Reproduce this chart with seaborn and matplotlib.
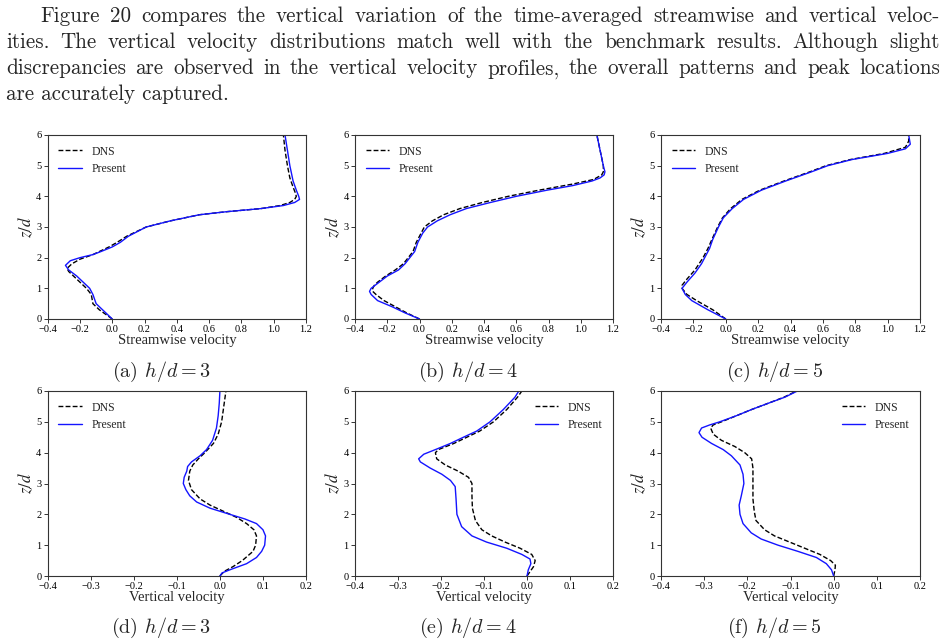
import numpy as np
import pandas as pd
import seaborn as sns
import matplotlib
import matplotlib.pyplot as plt

# ---------------------------------------------------------------- data
# (a) h/d = 3, streamwise
A_DNS_Z  = [0, 0.15, 0.3, 0.5, 0.8, 1.0, 1.2, 1.4, 1.55, 1.65, 1.8, 1.95, 2.1, 2.2, 2.35, 2.5, 2.7, 3.0, 3.2, 3.4, 3.5, 3.6, 3.7, 3.8, 3.9, 4.0, 4.1, 4.3, 4.6, 5.0, 5.5, 6.0]
A_DNS_U  = [0.0, -0.04, -0.08, -0.12, -0.13, -0.16, -0.20, -0.24, -0.27, -0.28, -0.25, -0.20, -0.12, -0.08, -0.02, 0.03, 0.09, 0.21, 0.36, 0.54, 0.71, 0.92, 1.04, 1.10, 1.13, 1.14, 1.135, 1.12, 1.10, 1.085, 1.07, 1.06]
A_PRE_Z  = [0, 0.15, 0.3, 0.5, 0.8, 1.0, 1.2, 1.4, 1.6, 1.75, 1.9, 2.0, 2.1, 2.2, 2.35, 2.5, 2.7, 3.0, 3.2, 3.4, 3.5, 3.6, 3.7, 3.8, 3.9, 4.0, 4.2, 4.5, 5.0, 5.5, 6.0]
A_PRE_U  = [0.0, -0.03, -0.06, -0.10, -0.12, -0.14, -0.18, -0.22, -0.27, -0.29, -0.26, -0.20, -0.12, -0.07, 0.0, 0.05, 0.10, 0.21, 0.36, 0.54, 0.71, 0.92, 1.06, 1.13, 1.16, 1.155, 1.14, 1.12, 1.10, 1.085, 1.07]

# (b) h/d = 4, streamwise
B_DNS_Z  = [0, 0.2, 0.4, 0.6, 0.8, 0.9, 1.0, 1.1, 1.2, 1.4, 1.6, 1.8, 2.0, 2.2, 2.5, 2.8, 3.0, 3.2, 3.4, 3.6, 3.8, 4.0, 4.2, 4.4, 4.55, 4.7, 4.8, 5.0, 5.5, 6.0]
B_DNS_U  = [0.0, -0.08, -0.15, -0.22, -0.27, -0.29, -0.29, -0.28, -0.26, -0.21, -0.15, -0.10, -0.07, -0.04, -0.02, 0.01, 0.03, 0.08, 0.15, 0.25, 0.39, 0.55, 0.74, 0.95, 1.08, 1.13, 1.14, 1.14, 1.12, 1.10]
B_PRE_Z  = [0, 0.2, 0.4, 0.6, 0.8, 0.9, 1.0, 1.2, 1.4, 1.6, 1.8, 2.0, 2.2, 2.5, 2.8, 3.0, 3.2, 3.4, 3.6, 3.8, 4.0, 4.2, 4.35, 4.5, 4.6, 4.7, 4.8, 5.0, 5.5, 6.0]
B_PRE_U  = [0.0, -0.09, -0.17, -0.26, -0.30, -0.31, -0.30, -0.25, -0.20, -0.13, -0.09, -0.06, -0.03, -0.01, 0.02, 0.05, 0.11, 0.19, 0.29, 0.44, 0.60, 0.79, 0.95, 1.07, 1.12, 1.145, 1.15, 1.14, 1.12, 1.10]

# (c) h/d = 5, streamwise
C_DNS_Z  = [0, 0.3, 0.6, 0.8, 1.0, 1.1, 1.3, 1.6, 2.0, 2.3, 2.6, 3.0, 3.3, 3.6, 3.9, 4.2, 4.5, 4.8, 5.0, 5.2, 5.4, 5.6, 5.8, 6.0]
C_DNS_U  = [0.0, -0.08, -0.18, -0.24, -0.27, -0.27, -0.24, -0.19, -0.14, -0.11, -0.085, -0.05, -0.02, 0.03, 0.10, 0.21, 0.36, 0.52, 0.62, 0.77, 0.98, 1.11, 1.13, 1.13]
C_PRE_Z  = [0, 0.3, 0.6, 0.8, 1.0, 1.2, 1.5, 1.8, 2.0, 2.3, 2.6, 3.0, 3.3, 3.6, 3.9, 4.2, 4.5, 4.8, 5.0, 5.2, 5.4, 5.55, 5.7, 5.85, 6.0]
C_PRE_U  = [0.0, -0.11, -0.21, -0.25, -0.27, -0.24, -0.19, -0.15, -0.13, -0.10, -0.08, -0.045, -0.015, 0.04, 0.11, 0.22, 0.37, 0.53, 0.63, 0.78, 1.0, 1.11, 1.14, 1.135, 1.13]

# (d) h/d = 3, vertical
D_DNS_Z  = [0, 0.15, 0.3, 0.5, 0.8, 1.0, 1.3, 1.5, 1.7, 1.9, 2.1, 2.3, 2.5, 2.8, 3.1, 3.4, 3.6, 3.8, 4.0, 4.3, 4.6, 5.0, 5.5, 6.0]
D_DNS_W  = [0.0, 0.01, 0.03, 0.052, 0.077, 0.083, 0.085, 0.079, 0.062, 0.039, 0.008, -0.023, -0.046, -0.066, -0.073, -0.07, -0.063, -0.05, -0.035, -0.015, -0.004, 0.004, 0.009, 0.014]
D_PRE_Z  = [0, 0.1, 0.2, 0.4, 0.6, 0.8, 1.0, 1.3, 1.5, 1.7, 1.85, 2.0, 2.1, 2.2, 2.4, 2.6, 2.8, 3.0, 3.2, 3.4, 3.55, 3.7, 3.9, 4.1, 4.4, 4.8, 5.2, 5.6, 6.0]
D_PRE_W  = [0.0, 0.005, 0.023, 0.062, 0.085, 0.097, 0.104, 0.106, 0.10, 0.085, 0.058, 0.023, 0.0, -0.023, -0.054, -0.07, -0.079, -0.085, -0.083, -0.077, -0.075, -0.066, -0.046, -0.031, -0.017, -0.008, -0.004, -0.0015, 0.0]

# (e) h/d = 4, vertical
E_DNS_Z  = [0, 0.3, 0.5, 0.7, 0.9, 1.1, 1.3, 1.5, 1.8, 2.2, 2.6, 3.0, 3.2, 3.4, 3.6, 3.8, 4.0, 4.1, 4.3, 4.5, 4.7, 5.0, 5.4, 5.8, 6.0]
E_DNS_W  = [0.0, 0.015, 0.019, 0.011, -0.016, -0.051, -0.082, -0.105, -0.12, -0.127, -0.128, -0.128, -0.136, -0.16, -0.19, -0.21, -0.213, -0.206, -0.17, -0.14, -0.11, -0.078, -0.047, -0.022, -0.012]
E_PRE_Z  = [0, 0.2, 0.4, 0.55, 0.7, 0.9, 1.1, 1.3, 1.6, 2.0, 2.5, 2.9, 3.1, 3.3, 3.5, 3.7, 3.8, 3.95, 4.1, 4.3, 4.5, 4.7, 5.0, 5.4, 5.8, 6.0]
E_PRE_W  = [0.0, 0.003, 0.009, 0.007, -0.012, -0.047, -0.094, -0.128, -0.152, -0.163, -0.165, -0.167, -0.178, -0.198, -0.225, -0.248, -0.252, -0.24, -0.213, -0.178, -0.148, -0.117, -0.086, -0.055, -0.028, -0.019]

# (f) h/d = 5, vertical
F_DNS_Z  = [0, 0.2, 0.35, 0.5, 0.7, 0.9, 1.1, 1.3, 1.5, 1.8, 2.1, 2.5, 3.0, 3.5, 3.8, 4.0, 4.2, 4.4, 4.6, 4.8, 4.9, 5.0, 5.2, 5.4, 5.6, 5.8, 6.0]
F_DNS_W  = [0.0, 0.003, 0.004, -0.007, -0.032, -0.067, -0.102, -0.137, -0.16, -0.18, -0.184, -0.187, -0.187, -0.187, -0.19, -0.206, -0.229, -0.26, -0.279, -0.285, -0.279, -0.26, -0.225, -0.19, -0.152, -0.115, -0.086]
F_PRE_Z  = [0, 0.2, 0.4, 0.6, 0.8, 1.0, 1.2, 1.4, 1.7, 2.0, 2.3, 2.6, 3.0, 3.3, 3.6, 3.9, 4.1, 4.3, 4.5, 4.65, 4.8, 4.9, 5.0, 5.2, 5.4, 5.6, 5.8, 6.0]
F_PRE_W  = [0.0, -0.005, -0.017, -0.04, -0.083, -0.129, -0.168, -0.191, -0.21, -0.217, -0.219, -0.214, -0.208, -0.21, -0.217, -0.237, -0.256, -0.283, -0.305, -0.312, -0.306, -0.287, -0.264, -0.225, -0.19, -0.152, -0.113, -0.084]

PANELS = [
    ("(a) $h/d = 3$", "Streamwise velocity", A_DNS_Z, A_DNS_U, A_PRE_Z, A_PRE_U),
    ("(b) $h/d = 4$", "Streamwise velocity", B_DNS_Z, B_DNS_U, B_PRE_Z, B_PRE_U),
    ("(c) $h/d = 5$", "Streamwise velocity", C_DNS_Z, C_DNS_U, C_PRE_Z, C_PRE_U),
    ("(d) $h/d = 3$", "Vertical velocity",   D_DNS_Z, D_DNS_W, D_PRE_Z, D_PRE_W),
    ("(e) $h/d = 4$", "Vertical velocity",   E_DNS_Z, E_DNS_W, E_PRE_Z, E_PRE_W),
    ("(f) $h/d = 5$", "Vertical velocity",   F_DNS_Z, F_DNS_W, F_PRE_Z, F_PRE_W),
]

PARAGRAPH = [
    "Figure 20 compares the vertical variation of the time-averaged streamwise and vertical veloc-",
    "ities.  The vertical velocity distributions match well with the benchmark results.  Although slight",
    "discrepancies are observed in the vertical velocity profiles, the overall patterns and peak locations",
    "are accurately captured.",
]

# ---------------------------------------------------------------- style
sns.set_style("ticks")
plt.rcParams["font.family"] = ["Liberation Serif", "DejaVu Serif"]
plt.rcParams["mathtext.fontset"] = "stix"
plt.rcParams["axes.edgecolor"] = "#333333"
plt.rcParams["axes.linewidth"] = 0.8
plt.rcParams["xtick.major.size"] = 3
plt.rcParams["ytick.major.size"] = 3
plt.rcParams["xtick.major.width"] = 0.7
plt.rcParams["ytick.major.width"] = 0.7
plt.rcParams["xtick.major.pad"] = 1.5
plt.rcParams["ytick.major.pad"] = 1.5

W, H = 947, 643
fig = plt.figure(figsize=(W / 100, H / 100), dpi=100)

# axes boxes in pixels: left, top, right, bottom
LEFTS  = [47.7, 355, 661]
RIGHTS = [306, 613, 920]
ROWS   = [(135, 319), (391, 576)]
CAP_Y  = [372, 628]

palette = {"DNS": "black", "Present": "#1414ff"}
dashes  = {"DNS": (3.5, 1.6), "Present": ""}

for i, (cap, xlabel, zd, ud, zp, up) in enumerate(PANELS):
    row, col = divmod(i, 3)
    top, bot = ROWS[row]
    l, r = LEFTS[col], RIGHTS[col]
    ax = fig.add_axes([l / W, 1 - bot / H, (r - l) / W, (bot - top) / H])

    df = pd.concat([
        pd.DataFrame({"z": zd, "u": ud, "src": "DNS"}),
        pd.DataFrame({"z": zp, "u": up, "src": "Present"}),
    ])
    sns.lineplot(data=df, x="u", y="z", hue="src", style="src", palette=palette,
                 dashes=dashes, sort=False, orient="y", linewidth=1.0, ax=ax)

    if row == 0:
        ax.set_xlim(-0.4, 1.2)
        ax.set_xticks(np.arange(-0.4, 1.21, 0.2))
    else:
        ax.set_xlim(-0.4, 0.2)
        ax.set_xticks(np.arange(-0.4, 0.21, 0.1))
    ax.set_ylim(0, 6)
    ax.set_yticks(range(7))
    ax.tick_params(labelsize=7.5, colors="#333333", labelcolor="black")
    ax.set_xlabel(xlabel, fontsize=10.5, labelpad=0)
    ax.set_ylabel("$z/d$", fontsize=12, labelpad=0.5)

    leg = ax.legend(loc="upper right" if i >= 4 else "upper left", frameon=False,
                    fontsize=8.5, handlelength=2.0, borderaxespad=0.5, labelspacing=0.45)

    fig.text((l + r) / 2 / W - 16 / W, 1 - CAP_Y[row] / H, cap, ha="center", va="center",
             fontsize=14.5, family="cmr10", math_fontfamily="cm")

# ---------------------------------------------------------------- justified paragraph
renderer = fig.canvas.get_renderer()
BASELINES = [22.5, 48.5, 74.5, 100.5]
for k, line in enumerate(PARAGRAPH):
    y = 1 - BASELINES[k] / H
    x0 = 40 if k == 0 else 6
    x1 = 940
    if k == len(PARAGRAPH) - 1:
        fig.text(x0 / W, y, line, fontsize=15.2, family="cmr10", va="baseline")
        continue
    words = line.split()
    texts = [fig.text(0, y, w, fontsize=15.2, family="cmr10", va="baseline") for w in words]
    widths = [t.get_window_extent(renderer).width for t in texts]
    gap = (x1 - x0 - sum(widths)) / (len(words) - 1)
    x = x0
    for t, w in zip(texts, widths):
        t.set_x(x / W)
        x += w + gap

fig.savefig("out.png", dpi=100)
